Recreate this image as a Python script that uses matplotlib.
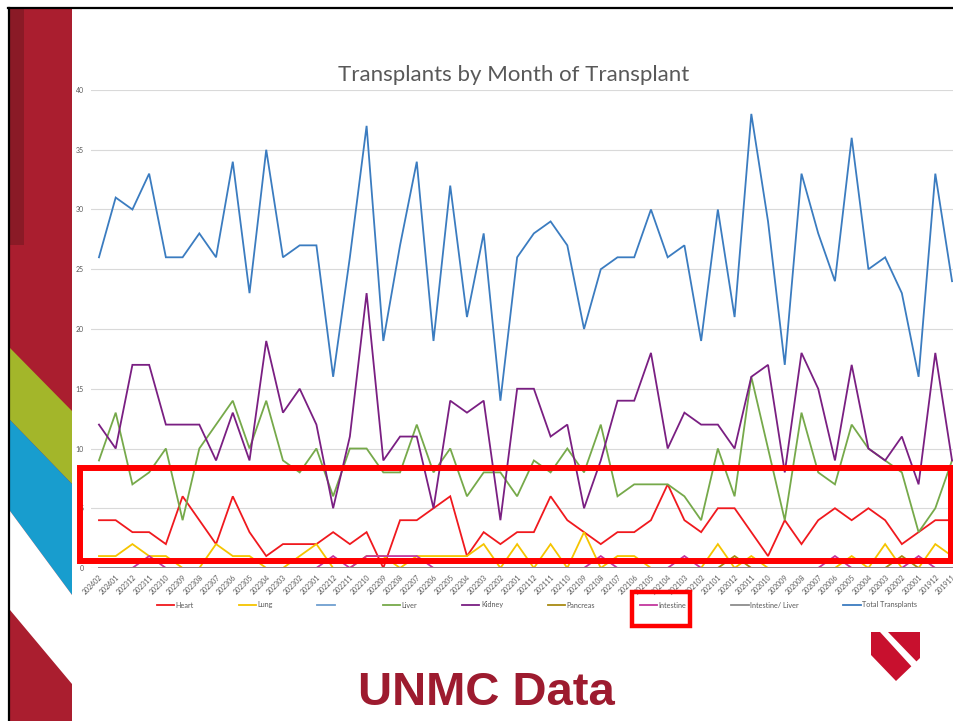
import matplotlib
matplotlib.use("Agg")
import matplotlib.pyplot as plt
import matplotlib.patches as mpatches
import numpy as np

plt.rcParams['font.family'] = ['Lato', 'DejaVu Sans']

# ---- data ----
months = ["202402", "202401", "202312", "202311", "202310", "202309", "202308", "202307",
          "202306", "202305", "202304", "202303", "202302", "202301", "202212", "202211",
          "202210", "202209", "202208", "202207", "202206", "202205", "202204", "202203",
          "202202", "202201", "202112", "202111", "202110", "202109", "202108", "202107",
          "202106", "202105", "202104", "202103", "202102", "202101", "202012", "202011",
          "202010", "202009", "202008", "202007", "202006", "202005", "202004", "202003",
          "202002", "202001", "201912", "201911"]

heart = [4, 4, 3, 3, 2, 6, 4, 2, 6, 3, 1, 2, 2, 2, 3, 2, 3, 0, 4, 4, 5, 6, 1, 3, 2, 3,
         3, 6, 4, 3, 2, 3, 3, 4, 7, 4, 3, 5, 5, 3, 1, 4, 2, 4, 5, 4, 5, 4, 2, 3, 4, 4]
lung = [1, 1, 2, 1, 1, 0, 0, 2, 1, 1, 0, 0, 1, 2, 0, 0, 1, 1, 0, 1, 1, 1, 1, 2, 0, 2,
        0, 2, 0, 3, 0, 1, 1, 0, 0, 0, 0, 2, 0, 1, 0, 0, 0, 0, 0, 1, 0, 2, 0, 0, 2, 1]
blank = [0] * 52
liver = [9, 13, 7, 8, 10, 4, 10, 12, 14, 10, 14, 9, 8, 10, 6, 10, 10, 8, 8, 12, 8, 10, 6, 8, 8, 6,
         9, 8, 10, 8, 12, 6, 7, 7, 7, 6, 4, 10, 6, 16, 10, 4, 13, 8, 7, 12, 10, 9, 8, 3, 5, 9]
kidney = [12, 10, 17, 17, 12, 12, 12, 9, 13, 9, 19, 13, 15, 12, 5, 11, 23, 9, 11, 11, 5, 14, 13, 14, 4, 15,
          15, 11, 12, 5, 9, 14, 14, 18, 10, 13, 12, 12, 10, 16, 17, 8, 18, 15, 9, 17, 10, 9, 11, 7, 18, 9]
pancreas = [0, 0, 0, 0, 0, 0, 0, 0, 0, 0, 0, 0, 0, 0, 0, 0, 0, 0, 0, 0, 0, 0, 0, 0, 0, 0,
            0, 0, 0, 0, 0, 0, 0, 0, 0, 0, 0, 0, 1, 0, 0, 0, 0, 0, 0, 0, 0, 0, 1, 0, 0, 0]
intestine = [0, 0, 0, 1, 0, 0, 0, 0, 0, 0, 0, 0, 0, 0, 1, 0, 1, 1, 1, 1, 0, 0, 0, 0, 0, 0,
             0, 0, 0, 0, 1, 0, 0, 0, 0, 1, 0, 0, 0, 0, 0, 0, 0, 0, 1, 0, 0, 0, 0, 1, 0, 0]
intestine_liver = [0] * 52
total = [26, 31, 30, 33, 26, 26, 28, 26, 34, 23, 35, 26, 27, 27, 16, 26, 37, 19, 27, 34, 19, 32, 21, 28, 14, 26,
         28, 29, 27, 20, 25, 26, 26, 30, 26, 27, 19, 30, 21, 38, 29, 17, 33, 28, 24, 36, 25, 26, 23, 16, 33, 24]

series = [
    ("Heart", heart, "#f0191e"),
    ("Lung", lung, "#f5c400"),
    (" ", blank, "#6f9fd0"),
    ("Liver", liver, "#76a94a"),
    ("Kidney", kidney, "#7a1f82"),
    ("Pancreas", pancreas, "#a88a12"),
    ("Intestine", intestine, "#c3379e"),
    ("Intestine/ Liver", intestine_liver, "#8c8c8c"),
    ("Total Transplants", total, "#3b7cc0"),
]

W, H = 954, 721
fig = plt.figure(figsize=(W / 100, H / 100), dpi=100, facecolor="white")

# background decoration (pixel coordinates)
bg = fig.add_axes([0, 0, 1, 1], zorder=0)
bg.set_xlim(0, W)
bg.set_ylim(H, 0)
bg.axis("off")
bg.add_patch(mpatches.Rectangle((10, 9), 62, H, color="#aa1e2f", lw=0))
bg.add_patch(mpatches.Rectangle((10, 9), 14, 236, color="#8a1a26", lw=0))
bg.add_patch(mpatches.Polygon([(10, 348), (72, 411), (72, 484), (10, 420)], color="#a3b62a", lw=0))
bg.add_patch(mpatches.Polygon([(10, 420), (72, 484), (72, 595), (10, 511)], color="#189dce", lw=0))
bg.add_patch(mpatches.Polygon([(10, 511), (72, 595), (72, 684), (10, 610)], color="white", lw=0))
bg.plot([8, W], [8, 8], color="black", lw=1.6)
bg.plot([9, 9], [8, H], color="black", lw=1.6)

# main chart
ax = fig.add_axes([90.6 / W, 1 - 568 / H, 869.8 / W, 478 / H], zorder=2)
ax.set_facecolor("none")
x = np.arange(len(months))
handles = []
for name, vals, col in series:
    ln, = ax.plot(x, vals, color=col, lw=1.3, solid_joinstyle="miter")
    handles.append(ln)

ax.set_xlim(-0.5, len(months) - 0.5)
ax.set_ylim(0, 40)
ax.set_yticks(range(0, 41, 5))
ax.set_xticks(x)
ax.set_xticklabels(months, rotation=45, ha="right", rotation_mode="anchor")
ax.tick_params(axis="both", length=0, labelsize=5, labelcolor="#595959")
ax.tick_params(axis="y", pad=5)
ax.tick_params(axis="x", pad=4)
ax.grid(axis="y", color="#d9d9d9", lw=0.8)
ax.set_axisbelow(True)
for s in ax.spines.values():
    s.set_visible(False)
ax.axhline(0, color="#bfbfbf", lw=0.8, zorder=0)

fig.text(514 / W, 1 - 75 / H, "Transplants by Month of Transplant",
         ha="center", va="center", fontsize=16, color="#595959")

fig.legend(handles, [s[0] for s in series], loc="center", ncol=9,
           bbox_to_anchor=(537 / W, 1 - 605 / H), frameon=False, fontsize=5.2,
           handlelength=2.4, handletextpad=0.2, columnspacing=6.2,
           labelcolor="#595959")

# overlay: highlight boxes, title, logo
ov = fig.add_axes([0, 0, 1, 1], zorder=5)
ov.set_xlim(0, W)
ov.set_ylim(H, 0)
ov.axis("off")
ov.patch.set_alpha(0)
ov.add_patch(mpatches.Rectangle((80, 468), 871, 93, fill=False, ec="#ff0000", lw=4.3))
ov.add_patch(mpatches.Rectangle((632, 592), 58, 34, fill=False, ec="#ff0000", lw=3.2))
ov.text(486, 693, "UNMC Data", ha="center", va="center", fontsize=34,
        fontweight="bold", color="#9d1b2f", family="Liberation Sans")

# shield logo
ov.add_patch(mpatches.Polygon([(871, 632), (920, 632), (920, 658), (896, 681), (871, 655)],
                              color="#c8102e", lw=0))
ov.add_patch(mpatches.Polygon([(880, 632), (888, 632), (917, 662), (912, 667)],
                              color="white", lw=0))

fig.savefig("out.png", dpi=100, facecolor="white")
